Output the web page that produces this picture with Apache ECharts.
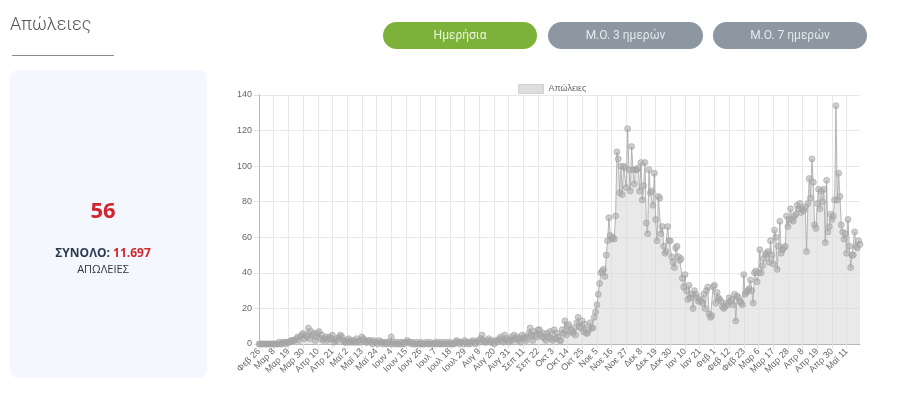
<!DOCTYPE html>
<html>
<head>
<meta charset="utf-8">
<script src="https://cdn.jsdelivr.net/npm/echarts@6/dist/echarts.min.js"></script>
<style>
  html, body { margin: 0; padding: 0; background: #fff; }
  #chart { width: 900px; height: 420px; }
</style>
</head>
<body>
<div id="chart"></div>
<script>
// daily deaths, starting Φεβ 26 2020
const startDate = Date.UTC(2020, 1, 26);
const monthNames = ['Ιαν', 'Φεβ', 'Μαρ', 'Απρ', 'Μαϊ', 'Ιουν', 'Ιουλ', 'Αυγ', 'Σεπ', 'Οκτ', 'Νοε', 'Δεκ'];

const deaths = [
  0, 0, 0, 0, 0, 0, 0, 0, 0, 0,
  0, 0, 0, 0, 0, 1, 0, 0, 1, 1,
  0, 1, 1, 1, 2, 2, 2, 2, 3, 4,
  2, 4, 5, 6, 3, 5, 4, 9, 3, 7,
  5, 6, 2, 4, 6, 7, 3, 5, 2, 3,
  4, 2, 3, 4, 3, 5, 1, 2, 3, 2,
  4, 5, 4, 2, 1, 1, 2, 3, 1, 2,
  1, 2, 1, 3, 1, 2, 1, 4, 3, 2,
  1, 1, 2, 2, 1, 0, 2, 1, 1, 0,
  2, 1, 1, 0, 1, 0, 1, 1, 0, 4,
  0, 1, 0, 1, 0, 0, 1, 0, 1, 0,
  1, 2, 1, 1, 0, 1, 0, 0, 1, 0,
  0, 1, 0, 0, 0, 1, 0, 0, 1, 0,
  0, 0, 1, 0, 1, 0, 0, 1, 0, 0,
  1, 0, 0, 1, 0, 0, 0, 1, 2, 1,
  0, 1, 1, 0, 2, 1, 0, 1, 0, 1,
  2, 1, 0, 1, 2, 1, 3, 5, 2, 1,
  1, 2, 3, 1, 2, 1, 0, 2, 1, 2,
  3, 4, 2, 1, 5, 2, 3, 1, 2, 4,
  2, 5, 3, 4, 2, 3, 1, 5, 4, 3,
  2, 4, 6, 9, 5, 2, 7, 5, 4, 8,
  8, 5, 4, 6, 3, 2, 6, 4, 7, 3,
  2, 8, 3, 6, 4, 2, 2, 8, 6, 13,
  5, 10, 11, 7, 8, 6, 9, 5, 12, 15,
  10, 9, 13, 7, 11, 6, 6, 8, 12, 9,
  9, 15, 18, 22, 28, 34, 40, 41, 42, 38,
  50, 58, 71, 61, 59, 60, 59, 72, 108, 104,
  85, 100, 84, 100, 99, 88, 121, 98, 86, 111,
  98, 90, 98, 98, 99, 86, 102, 81, 89, 102,
  68, 62, 98, 85, 86, 78, 96, 70, 58, 83,
  82, 62, 66, 55, 51, 52, 66, 58, 58, 49,
  46, 43, 54, 55, 49, 47, 48, 37, 32, 39,
  30, 25, 33, 26, 28, 20, 30, 28, 26, 24,
  25, 24, 23, 28, 20, 30, 32, 17, 15, 16,
  32, 33, 23, 29, 26, 25, 24, 21, 20, 21,
  23, 22, 26, 24, 25, 22, 28, 13, 27, 26,
  24, 23, 22, 39, 28, 29, 30, 31, 36, 30,
  23, 40, 41, 35, 40, 53, 40, 44, 48, 50,
  51, 52, 46, 58, 50, 45, 64, 60, 42, 55,
  69, 51, 53, 54, 55, 72, 66, 70, 76, 70,
  69, 72, 73, 78, 76, 79, 74, 76, 75, 77,
  52, 79, 93, 82, 104, 91, 67, 65, 79, 87,
  76, 86, 80, 87, 57, 92, 63, 66, 73, 70,
  72, 81, 134, 81, 96, 83, 67, 63, 59, 62,
  51, 70, 55, 43, 50, 50, 63, 55, 54, 58,
  56
];

const yTicks = [0, 20, 40, 60, 80, 100, 120, 140];
const seriesName = 'Απώλειες';
const lastValue = '56';
const totalValue = '11.697';

const dates = deaths.map((_, i) => {
  const d = new Date(startDate + i * 86400000);
  return monthNames[d.getUTCMonth()] + ' ' + d.getUTCDate();
});

const chart = echarts.init(document.getElementById('chart'));

chart.setOption({
  animation: false,
  textStyle: { fontFamily: 'Liberation Sans, Arial, sans-serif' },
  legend: {
    data: [{ name: seriesName, icon: 'rect' }],
    left: 513,
    top: 79,
    itemWidth: 25,
    itemHeight: 9,
    itemGap: 6,
    itemStyle: { color: 'rgba(220,220,220,0.95)', borderColor: '#d0d0d0', borderWidth: 1 },
    lineStyle: { opacity: 0 },
    textStyle: { fontSize: 9, color: '#666' },
  },
  grid: { left: 259, right: 40, top: 95, bottom: 76, containLabel: false },
  xAxis: {
    type: 'category',
    data: dates,
    boundaryGap: false,
    axisLine: { show: true, lineStyle: { color: '#b8b8b8' } },
    axisTick: { show: true, interval: 10, length: 5, lineStyle: { color: '#e2e2e2' } },
    axisLabel: { interval: 10, rotate: 45, fontSize: 9, color: '#666', margin: 6 },
    splitLine: { show: true, interval: 10, lineStyle: { color: '#e8e8e8' } },
  },
  yAxis: {
    type: 'value',
    min: yTicks[0],
    max: yTicks[yTicks.length - 1],
    interval: 20,
    axisLine: { show: true, lineStyle: { color: '#b8b8b8' } },
    axisTick: { show: true, length: 5, lineStyle: { color: '#e2e2e2' } },
    axisLabel: { fontSize: 9, color: '#666', margin: 7 },
    splitLine: { show: true, lineStyle: { color: '#e8e8e8' } },
  },
  series: [
    {
      name: seriesName,
      type: 'line',
      data: deaths,
      symbol: 'circle',
      symbolSize: 6,
      showAllSymbol: true,
      lineStyle: { color: 'rgba(165,165,165,0.8)', width: 1 },
      itemStyle: { color: 'rgba(170,170,170,0.55)', borderColor: 'rgba(160,160,160,0.6)', borderWidth: 1 },
      areaStyle: { color: 'rgba(218,218,218,0.85)' },
    },
  ],
  graphic: [
    {
      type: 'text', left: 10, top: 16,
      style: { text: 'Απώλειες', font: '300 18px Roboto', fill: '#555' },
    },
    {
      type: 'line', shape: { x1: 12, y1: 55.5, x2: 114, y2: 55.5 },
      style: { stroke: '#8a8a8a', lineWidth: 1 },
    },
    {
      type: 'rect', shape: { x: 383, y: 22, width: 154, height: 27, r: 13.5 },
      style: { fill: '#7cb23a' },
    },
    {
      type: 'text', x: 460, y: 35.5,
      style: { text: 'Ημερήσια', font: '12px Roboto', fill: '#eaf5dc', align: 'center', verticalAlign: 'middle' },
    },
    {
      type: 'rect', shape: { x: 548, y: 22, width: 155, height: 27, r: 13.5 },
      style: { fill: '#8c97a2' },
    },
    {
      type: 'text', x: 625.5, y: 35.5,
      style: { text: 'Μ.Ο. 3 ημερών', font: '12px Roboto', fill: '#e4e8ec', align: 'center', verticalAlign: 'middle' },
    },
    {
      type: 'rect', shape: { x: 713, y: 22, width: 154, height: 27, r: 13.5 },
      style: { fill: '#8c97a2' },
    },
    {
      type: 'text', x: 790, y: 35.5,
      style: { text: 'Μ.Ο. 7 ημερών', font: '12px Roboto', fill: '#e4e8ec', align: 'center', verticalAlign: 'middle' },
    },
    {
      type: 'rect', shape: { x: 10, y: 70, width: 197, height: 308, r: 8 },
      style: { fill: '#f4f7fd' },
      z: -1,
    },
    {
      type: 'text', x: 103, y: 212,
      style: { text: lastValue, font: 'bold 22px "Open Sans"', fill: '#d0262d', align: 'center', verticalAlign: 'middle' },
    },
    {
      type: 'text', x: 103, y: 254,
      style: {
        text: '{a|ΣΥΝΟΛΟ: }{b|' + totalValue + '}',
        align: 'center', verticalAlign: 'middle',
        rich: {
          a: { font: 'bold 12px "Open Sans"', fill: '#2c3b50' },
          b: { font: 'bold 12px "Open Sans"', fill: '#d0262d' },
        },
      },
    },
    {
      type: 'text', x: 103, y: 270,
      style: { text: 'ΑΠΩΛΕΙΕΣ', font: '11px "Open Sans"', fill: '#333', align: 'center', verticalAlign: 'middle' },
    },
  ],
});
</script>
</body>
</html>
